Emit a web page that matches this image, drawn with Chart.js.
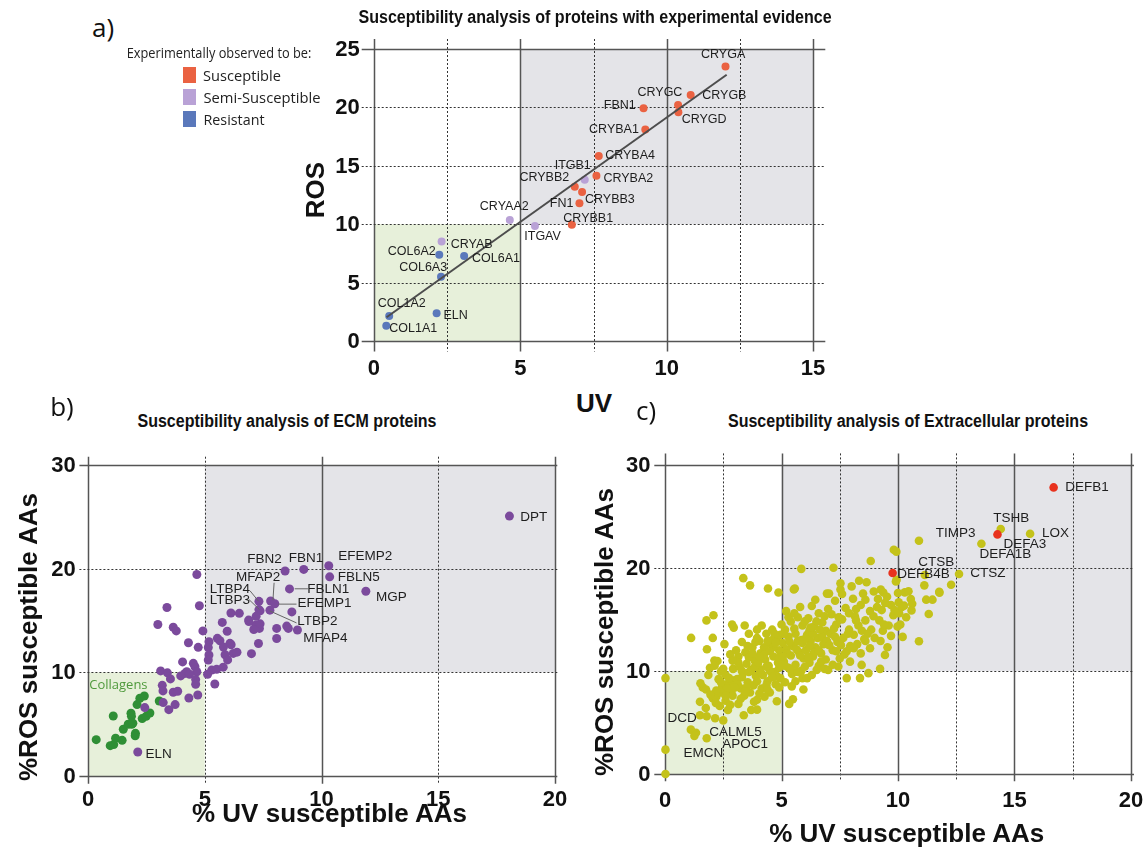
<!DOCTYPE html>
<html>
<head>
<meta charset="utf-8">
<title>Susceptibility analysis</title>
<script src="https://cdn.jsdelivr.net/npm/chart.js@4.4.1/dist/chart.umd.min.js"></script>
<style>
  body { margin:0; width:1147px; height:857px; position:relative; background:#fff; overflow:hidden;
         font-family:Arial, "Liberation Sans", sans-serif; color:#111; }
  canvas { position:absolute; }
  .txt { position:absolute; white-space:nowrap; line-height:1; }
  .title { font-weight:bold; font-size:18px; }
  .axis { font-weight:bold; font-size:26px; }
  .tick { font-weight:bold; font-size:22px; }
  .letter { font-family:"Open Sans", sans-serif; font-size:26px; }
  .legend { font-family:"Open Sans", sans-serif; font-size:15px; color:#222; }
  .swatch { position:absolute; width:13px; height:16px; }
</style>
</head>
<body>
<canvas id="chartA" width="520" height="360" style="left:320px;top:20px"></canvas>
<canvas id="chartB" width="540" height="370" style="left:30px;top:440px"></canvas>
<canvas id="chartC" width="537" height="370" style="left:610px;top:440px"></canvas>

<script>
// ---------- panel a: proteins with experimental evidence ----------
const susceptibleNames = ["CRYGA","CRYGB","CRYGC","CRYGD","FBN1","CRYBA1","CRYBA4","CRYBA2","CRYBB2","CRYBB3","FN1","CRYBB1"];
const susceptibleUV  = [12.01, 10.82, 10.39, 10.40, 9.21, 9.27, 7.68, 7.60, 6.86, 7.11, 7.02, 6.76];
const susceptibleROS = [23.50, 21.06, 20.20, 19.58, 19.92, 18.10, 15.84, 14.15, 13.20, 12.76, 11.79, 9.96];

const semiNames = ["ITGB1","CRYAA2","ITGAV","CRYAB"];
const semiUV  = [7.20, 4.64, 5.50, 2.31];
const semiROS = [13.80, 10.36, 9.85, 8.53];

const resistantNames = ["COL6A2","COL6A1","COL6A3","COL1A2","ELN","COL1A1"];
const resistantUV  = [2.23, 3.08, 2.29, 0.52, 2.14, 0.42];
const resistantROS = [7.39, 7.28, 5.51, 2.14, 2.37, 1.31];

const fitLineUV  = [0.43, 12.05];
const fitLineROS = [2.03, 22.80];

const ticksA_UV  = [0, 5, 10, 15];
const ticksA_ROS = [0, 5, 10, 15, 20, 25];

const labelsA   = ["CRYGA","CRYGC","CRYGB","FBN1","CRYGD","CRYBA1","CRYBA4","ITGB1","CRYBB2","CRYBA2","CRYBB3","FN1","CRYBB1","CRYAA2","ITGAV","CRYAB","COL6A2","COL6A1","COL6A3","COL1A2","ELN","COL1A1"];
const labelUVA  = [11.93, 9.77, 11.97, 8.40, 11.28, 8.20, 8.75, 6.79, 5.82, 8.69, 8.06, 6.41, 7.32, 4.45, 5.76, 3.34, 1.29, 4.17, 1.68, 0.95, 2.79, 1.34];
const labelROSA = [24.49, 21.26, 21.00, 20.12, 18.92, 18.13, 15.84, 15.04, 14.02, 13.93, 12.07, 11.79, 10.51, 11.50, 8.93, 8.24, 7.62, 7.05, 6.31, 3.17, 2.14, 1.05];

// ---------- panel b: ECM proteins ----------
const ecmPts = [
  [18.05,25.07],[10.31,20.28],[9.24,19.93],[8.44,19.77],[10.35,19.21],[8.63,18.05],[11.90,17.82],
  [7.32,16.85],[7.82,16.88],[8.00,16.62],[7.32,16.05],[7.37,15.93],[7.79,16.00],[8.73,15.83],
  [6.12,15.72],[6.48,15.69],[6.88,15.04],[7.20,15.40],[7.19,14.56],[7.34,14.24],[8.08,14.24],
  [8.51,14.46],[8.58,14.24],[8.97,14.08],[8.08,13.26],[7.30,12.78],[7.00,11.80],[5.75,14.82],
  [5.96,13.96],[5.54,13.28],[5.65,13.05],[6.08,12.80],[6.13,12.66],[5.80,12.45],[6.22,11.83],
  [6.38,11.95],[5.87,11.70],[5.98,11.20],[5.18,12.95],[5.15,12.40],[5.30,10.22],[5.51,10.29],
  [5.79,10.50],[4.30,12.85],[4.72,12.41],[4.58,10.54],[4.51,10.87],[5.18,11.67],[5.15,11.19],
  [4.15,9.90],[4.23,10.06],[4.66,10.06],[5.43,8.88],[5.12,9.82],[7.10,14.13],[6.89,14.90],[7.37,14.68],
  [4.66,19.44],[4.77,16.42],[4.92,14.00],[3.38,16.25],[2.99,14.61],[3.65,14.35],[3.78,14.00],
  [4.05,11.01],[3.11,10.14],[3.40,9.95],[3.53,9.37],[3.97,9.66],[4.35,9.82],[4.61,9.30],
  [4.61,8.85],[3.18,8.75],[3.21,8.21],[3.65,8.08],[3.84,8.18],[3.73,6.89],[4.32,7.53],
  [4.70,7.82],[3.22,7.08],[3.46,6.40],[2.43,6.60],[2.13,2.32]
];
const collagenPts = [
  [0.35,3.51],[0.95,2.93],[1.10,3.03],[1.18,3.64],[1.46,3.44],[1.08,5.79],[1.51,4.51],
  [1.72,4.99],[1.84,6.05],[1.86,5.76],[2.03,4.12],[2.02,3.89],[1.87,4.99],[2.10,6.89],
  [2.22,7.50],[2.41,7.72],[2.32,5.54],[2.49,5.76],[2.65,6.08],[3.05,7.24],[1.92,5.09]
];
const ticksBC_UV  = [0, 5, 10, 15, 20];
const ticksBC_ROS = [0, 10, 20, 30];
const labelsB   = ["DPT","EFEMP2","FBN1","FBN2","FBLN5","MFAP2","FBLN1","LTBP4","MGP","LTBP3","EFEMP1","LTBP2","MFAP4","ELN"];
const labelUVB  = [19.09, 11.87, 9.34, 7.56, 11.60, 7.29, 10.29, 6.08, 12.99, 6.08, 10.13, 9.82, 10.17, 3.02];
const labelROSB = [25.00, 21.24, 21.02, 20.89, 19.15, 19.21, 18.06, 17.99, 17.22, 16.96, 16.64, 14.90, 13.29, 2.09];
const leadersB = [
  [[8.85,18.06],[9.42,18.06]],
  [[6.94,17.86],[7.30,16.87]],
  [[6.89,17.03],[7.34,16.06]],
  [[7.97,18.64],[7.92,16.96]],
  [[8.15,16.58],[8.93,16.58]],
  [[7.78,15.93],[8.93,14.77]]
];

// ---------- panel c: extracellular proteins ----------
const extracellularPts = [
  [0.02,9.3],[0.02,2.36],[0.02,0.0],
  [1.11,4.3],[1.33,4.0],[1.26,3.7],[1.79,3.47],[2.15,5.4],[1.5,5.7],[1.79,5.6],[1.75,6.4],[1.5,7.0],
  [2.05,7.35],[1.62,8.4],[1.76,8.2],[1.52,8.8],[1.86,9.6],[1.93,10.3],[2.12,11.0],[1.8,12.1],
  [2.05,13.2],[1.12,13.2],[1.78,14.9],[2.08,15.4],
  [2.25,10.96],[2.13,10.5],[2.4,9.95],[2.6,9.6],[2.3,9.2],[2.72,8.8],[2.45,8.4],[2.85,8.0],[2.2,7.5],
  [2.6,7.1],[2.35,6.6],[2.7,6.2],[2.5,5.2],[2.95,14.2],[2.88,14.5],[2.55,12.6],[2.8,11.6],[2.92,10.2],
  [2.98,9.1],[2.66,8.3],[2.4,7.9],[2.9,7.6],[2.18,6.9],
  [3.95,14.0],[3.6,13.6],[3.3,12.8],[3.75,12.3],[3.45,11.8],[3.15,11.4],[3.85,11.0],[3.5,10.7],
  [3.2,10.4],[3.7,10.1],[3.35,9.8],[3.9,9.5],[3.1,9.2],[3.55,8.9],[3.8,8.6],[3.25,8.3],[3.65,7.9],
  [3.4,7.6],[3.95,7.2],[3.15,6.8],[3.7,6.2],[3.38,5.7],[3.36,19.0],[3.65,18.3],[3.42,14.4],[3.05,12.0],
  [3.88,12.8],[3.6,11.3],[3.3,10.0],[3.95,9.0],[3.5,8.4],[3.82,7.0],[3.12,8.7],
  [4.42,18.0],[4.87,17.6],[4.15,14.4],[4.6,14.0],[4.35,13.6],[4.8,13.2],[4.05,12.9],[4.55,12.6],
  [4.25,12.3],[4.9,12.0],[4.1,11.7],[4.65,11.4],[4.3,11.1],[4.85,10.8],[4.45,10.5],[4.05,10.2],
  [4.7,9.9],[4.2,9.6],[4.95,9.3],[4.4,9.0],[4.75,8.7],[4.15,8.3],[4.5,7.9],[4.27,7.5],[4.8,7.05],
  [3.95,6.24],[4.6,13.0],[4.2,11.3],[4.5,10.0],[4.9,11.3],[4.35,8.6],[4.65,12.3],[4.1,9.9],[4.8,9.5],
  [5.85,19.9],[5.57,18.0],[5.53,17.9],[5.2,15.8],[5.7,15.2],[5.4,14.8],[5.9,14.4],[5.15,14.0],
  [5.6,13.6],[5.3,13.3],[5.85,13.0],[5.05,12.7],[5.5,12.4],[5.2,12.1],[5.75,11.8],[5.4,11.5],
  [5.95,11.2],[5.1,10.9],[5.6,10.6],[5.3,10.3],[5.85,10.0],[5.45,9.7],[5.9,9.3],[5.44,8.5],
  [5.94,8.2],[5.49,7.25],[5.33,6.8],[5.25,11.7],[5.7,12.9],[5.55,14.1],[5.15,10.5],[5.8,11.5],
  [6.95,17.5],[6.3,16.3],[6.6,15.6],[6.15,15.1],[6.75,14.7],[6.4,14.3],[6.9,13.9],[6.1,13.5],
  [6.55,13.2],[6.25,12.9],[6.8,12.6],[6.45,12.3],[6.05,12.0],[6.7,11.7],[6.35,11.4],[6.9,11.1],
  [6.2,10.8],[6.6,10.5],[6.51,10.1],[6.1,9.3],[6.3,9.6],[6.85,10.2],[6.5,14.8],[6.2,13.9],
  [7.23,20.0],[7.53,18.5],[7.53,17.9],[7.04,17.5],[7.6,17.46],[7.3,16.8],[7.75,16.1],[7.15,15.5],
  [7.6,15.0],[7.35,14.5],[7.9,14.0],[7.1,13.6],[7.65,13.2],[7.4,12.8],[7.95,12.4],[7.2,12.0],
  [7.7,11.6],[7.44,10.42],[7.94,10.9],[7.0,10.1],[7.8,9.3],[7.5,11.2],[7.25,14.1],
  [8.83,20.66],[8.33,18.75],[8.65,18.6],[8.01,18.2],[8.5,17.5],[8.07,17.0],[8.96,17.7],[8.4,16.4],
  [8.8,15.8],[8.15,15.3],[8.6,14.9],[8.3,14.4],[8.85,14.0],[8.1,13.5],[8.55,13.1],[8.25,12.6],
  [8.8,12.2],[8.4,11.7],[8.44,10.58],[8.73,9.78],[8.37,9.3],[8.6,16.9],
  [9.82,21.76],[9.93,21.57],[9.94,18.85],[9.91,18.67],[9.26,17.9],[9.37,17.6],[9.53,17.2],[9.14,16.97],
  [9.7,16.4],[9.3,15.9],[9.8,15.4],[9.2,14.9],[9.6,14.4],[9.98,14.3],[9.35,13.9],[9.7,13.4],
  [9.25,12.9],[9.55,12.3],[9.44,11.55],[9.23,10.2],
  [10.9,22.63],[10.0,17.56],[10.03,16.65],[10.29,17.62],[10.45,17.72],[10.55,16.97],[10.61,16.52],
  [10.17,16.2],[10.26,16.33],[10.58,15.87],[10.2,13.3],[10.9,12.87],[10.35,15.2],[10.1,14.5],
  [11.15,19.3],[11.13,18.3],[11.21,16.91],[11.48,16.91],[11.32,15.52],[11.78,17.59],[12.28,18.36],
  [11.77,17.67],[12.62,19.4],[13.58,22.34],[14.41,23.76],[15.67,23.3],
  // dense core of the cloud
  [3.3,9.4],[3.6,9.9],[3.85,10.4],[4.0,10.8],[4.25,11.6],[4.5,11.9],[4.75,12.7],[4.95,13.5],
  [5.1,13.6],[5.35,12.8],[5.65,12.1],[5.9,12.7],[6.0,13.1],[6.2,12.4],[6.4,11.8],[6.6,12.0],
  [6.75,13.3],[6.95,12.9],[6.35,13.6],[6.65,14.0],[7.05,12.5],[7.3,13.3],[7.55,12.5],[7.85,13.6],
  [7.45,15.2],[7.9,15.6],[8.2,14.9],[8.45,13.9],[8.7,13.6],[8.95,15.3],[9.1,16.2],[9.45,16.6],
  [8.2,16.0],[5.05,11.4],[5.4,10.1],[5.7,9.9],[4.9,10.3],[4.6,9.4],[4.35,10.4],[4.05,11.4],
  [3.75,11.7],[3.55,12.4],[3.95,13.2],[4.4,12.9],[4.7,13.6],[5.0,14.5],[5.3,15.2],[5.55,15.6],
  [6.0,14.8],[6.25,14.2],[6.85,15.3],[7.0,16.0],[6.45,16.9],[5.8,16.2],[3.45,8.0],[3.0,8.4],
  [2.75,9.3],[2.5,10.2],[3.15,10.8],[2.9,11.0],[2.6,7.6],[2.2,8.1],[2.4,8.9],[1.95,7.7],
  [2.8,6.7],[3.25,7.3],[4.05,7.8],[4.4,8.2],[4.9,8.4],[5.15,8.9],[5.6,9.0],[6.0,10.4],
  [6.15,11.4],[6.7,10.9],[7.2,10.6],[7.35,11.9],[7.8,11.9],[8.1,12.2],[8.6,12.9],[9.0,13.2],
  [9.4,14.5],[9.85,15.9],[10.05,15.6]
];
const highlightPts = [[16.68,27.8],[14.27,23.24],[9.77,19.5]];
const labelsC   = ["DEFB1","TSHB","TIMP3","LOX","DEFA3","DEFA1B","CTSB","DEFB4B","CTSZ","DCD","CALML5","APOC1","EMCN"];
const labelUVC  = [18.11, 14.86, 12.47, 16.76, 15.45, 14.61, 11.64, 11.09, 13.86, 0.73, 3.03, 3.44, 1.65];
const labelROSC = [27.80, 24.83, 23.38, 23.31, 22.24, 21.27, 20.56, 19.33, 19.43, 5.43, 4.07, 2.85, 1.97];

// ---------- helpers ----------
const FONT = "Arial, Helvetica, sans-serif";
const GREY_BOX = "#e4e4e8";
const GREEN_BOX = "#e7f0da";

function pts(uv, ros) { return uv.map((x, i) => ({ x, y: ros[i] })); }
function pairs(list) { return list.map(([x, y]) => ({ x, y })); }

// shaded quadrants, Prism-style grid and text labels
const decor = {
  id: "decor",
  beforeDatasetsDraw(chart, args, o) {
    const { ctx, chartArea: a, scales: { x, y } } = chart;
    ctx.save();
    o.regions.forEach(r => {
      const l = x.getPixelForValue(r.x0), rt = x.getPixelForValue(r.x1);
      const t = y.getPixelForValue(r.y1), b = y.getPixelForValue(r.y0);
      ctx.fillStyle = r.color;
      ctx.fillRect(l, t, rt - l, b - t);
    });
    const stroke = (x0, y0, x1, y1, dotted) => {
      ctx.beginPath();
      ctx.setLineDash(dotted ? [2, 2] : []);
      ctx.strokeStyle = dotted ? "#333" : "#555";
      ctx.lineWidth = dotted ? 1 : 1.5;
      ctx.moveTo(x0, y0);
      ctx.lineTo(x1, y1);
      ctx.stroke();
    };
    o.xLines.forEach(([v, dotted]) => {
      const p = Math.round(x.getPixelForValue(v)) + 0.5;
      stroke(p, a.top, p, a.bottom, dotted);
    });
    o.yLines.forEach(([v, dotted]) => {
      const p = Math.round(y.getPixelForValue(v)) + 0.5;
      stroke(a.left, p, a.right, p, dotted);
    });
    ctx.restore();
  },
  afterDatasetsDraw(chart, args, o) {
    const { ctx, scales: { x, y } } = chart;
    ctx.save();
    ctx.setLineDash([]);
    ctx.strokeStyle = "#666";
    ctx.lineWidth = 1;
    (o.leaders || []).forEach(seg => {
      ctx.beginPath();
      seg.forEach(([u, r], i) => {
        const px = x.getPixelForValue(u), py = y.getPixelForValue(r);
        if (i === 0) ctx.moveTo(px, py); else ctx.lineTo(px, py);
      });
      ctx.stroke();
    });
    ctx.fillStyle = "#1e1e1e";
    ctx.font = o.labelSize + "px " + FONT;
    ctx.textAlign = "center";
    ctx.textBaseline = "middle";
    o.labels.forEach((t, i) => {
      ctx.fillText(t, x.getPixelForValue(o.labelX[i]), y.getPixelForValue(o.labelY[i]));
    });
    (o.extra || []).forEach(e => {
      ctx.fillStyle = e.color;
      ctx.font = e.size + "px " + e.family;
      ctx.fillText(e.text, x.getPixelForValue(e.x), y.getPixelForValue(e.y));
    });
    ctx.restore();
  }
};

function axis(c, horizontal) {
  return {
    type: "linear", min: c.min, max: c.max,
    afterBuildTicks: s => { s.ticks = c.ticks.map(v => ({ value: v })); },
    afterFit: s => { if (horizontal) s.height = c.size; else s.width = c.size; },
    grid: { display: false, drawTicks: false },
    border: { display: false },
    ticks: { display: false }
  };
}

function scatterChart(id, datasets, cfg) {
  const chart = new Chart(document.getElementById(id), {
    type: "scatter",
    data: { datasets },
    options: {
      responsive: false,
      animation: false,
      layout: { padding: cfg.padding },
      plugins: { legend: { display: false }, tooltip: { enabled: false }, decor: cfg.decor },
      scales: { x: axis(cfg.x, true), y: axis(cfg.y, false) }
    },
    plugins: [decor]
  });
  // bold tick numbers placed from the chart's own scales
  const cv = chart.canvas, ox = cv.offsetLeft, oy = cv.offsetTop;
  const a = chart.chartArea;
  cfg.x.ticks.forEach(v => {
    place(String(v), "tick", ox + chart.scales.x.getPixelForValue(v), oy + a.bottom + cfg.x.labelOffset);
  });
  cfg.y.ticks.forEach(v => {
    const d = place(String(v), "tick", ox + a.left - cfg.y.labelOffset, oy + chart.scales.y.getPixelForValue(v));
    d.style.transform = "translate(-100%,-50%)";
  });
  return chart;
}

function dots(data, color, r) {
  return { data, backgroundColor: color, borderWidth: 0, pointRadius: r, pointHoverRadius: r };
}

function place(text, cls, cx, cy, opt = {}) {
  const d = document.createElement("div");
  d.className = "txt " + cls;
  d.textContent = text;
  document.body.appendChild(d);
  const k = opt.width ? opt.width / d.offsetWidth : 1;
  const rot = opt.rotate ? " rotate(-90deg)" : "";
  d.style.left = cx + "px";
  d.style.top = cy + "px";
  d.style.transform = "translate(-50%,-50%)" + rot + " scaleX(" + k + ")";
  return d;
}

// ---------- panel a ----------
scatterChart("chartA", [
  { type: "line", data: pts(fitLineUV, fitLineROS), borderColor: "#4d4d4d", borderWidth: 2, pointRadius: 0 },
  dots(pts(susceptibleUV, susceptibleROS), "#ea6242", 4),
  dots(pts(semiUV, semiROS), "#b9a2d6", 4),
  dots(pts(resistantUV, resistantROS), "#5a78bb", 4)
], {
  padding: { top: 19, right: 14.7, left: 0, bottom: 0 },
  x: { min: -0.42, max: 15.42, ticks: ticksA_UV, size: 28.5, labelOffset: 16.5 },
  y: { min: -0.9, max: 25.86, ticks: ticksA_ROS, size: 41.7, labelOffset: 2 },
  decor: {
    regions: [
      { x0: 5, x1: 15, y0: 10, y1: 25, color: GREY_BOX },
      { x0: 0, x1: 5, y0: 0, y1: 10, color: GREEN_BOX }
    ],
    xLines: [[0, false], [2.5, true], [5, false], [7.5, true], [10, false], [12.5, true], [15, false]],
    yLines: [[0, false], [5, true], [10, true], [15, true], [20, true], [25, false]],
    labels: labelsA, labelX: labelUVA, labelY: labelROSA, labelSize: 12.5
  }
});

// ---------- panel b ----------
scatterChart("chartB", [
  dots(pairs(ecmPts), "#7b4a9c", 4.5),
  dots(pairs(collagenPts), "#2f8f35", 4.5)
], {
  padding: { top: 16.7, right: 12.7, left: 0, bottom: 0 },
  x: { min: -0.37, max: 20.1, ticks: ticksBC_UV, size: 26.3, labelOffset: 15 },
  y: { min: -0.74, max: 30.8, ticks: ticksBC_ROS, size: 49.4, labelOffset: 3.6 },
  decor: {
    regions: [
      { x0: 5, x1: 20, y0: 10, y1: 30, color: GREY_BOX },
      { x0: 0, x1: 5, y0: 0, y1: 10, color: GREEN_BOX }
    ],
    xLines: [[0, false], [5, true], [10, false], [15, true], [20, false]],
    yLines: [[0, false], [10, true], [20, true], [30, false]],
    labels: labelsB, labelX: labelUVB, labelY: labelROSB, labelSize: 13.5,
    leaders: leadersB,
    extra: [{ text: "Collagens", x: 1.3, y: 8.75, color: "#4f9a3c", size: 13, family: '"Open Sans", sans-serif' }]
  }
});

// ---------- panel c ----------
scatterChart("chartC", [
  dots(pairs(highlightPts), "#e8321e", 4.3),
  dots(pairs(extracellularPts), "#c4c21a", 4.3)
], {
  padding: { top: 13.4, right: 13, left: 0, bottom: 0 },
  x: { min: -0.46, max: 20.13, ticks: ticksBC_UV, size: 28.8, labelOffset: 18.5 },
  y: { min: -0.7, max: 31.1, ticks: ticksBC_ROS, size: 44.3, labelOffset: 3.7 },
  decor: {
    regions: [
      { x0: 5, x1: 20, y0: 10, y1: 30, color: GREY_BOX },
      { x0: 0, x1: 5, y0: 0, y1: 10, color: GREEN_BOX }
    ],
    xLines: [[0, false], [2.5, true], [5, false], [7.5, true], [10, false], [12.5, true], [15, false], [17.5, true], [20, false]],
    yLines: [[0, false], [10, true], [20, true], [30, false]],
    labels: labelsC, labelX: labelUVC, labelY: labelROSC, labelSize: 13.5
  }
});

// ---------- page text ----------
place("Susceptibility analysis of proteins with experimental evidence", "title", 594.5, 17, { width: 473 });
place("Susceptibility analysis of ECM proteins", "title", 287, 421, { width: 299 });
place("Susceptibility analysis of Extracellular proteins", "title", 907.6, 421, { width: 360 });

place("a)", "letter", 103, 27);
place("b)", "letter", 62, 406);
place("c)", "letter", 646, 410);

place("UV", "axis", 594, 403);
place("ROS", "axis", 315, 190, { rotate: true });
place("% UV susceptible AAs", "axis", 329.5, 813);
place("%ROS susceptible AAs", "axis", 27.5, 637, { rotate: true });
place("% UV susceptible AAs", "axis", 906.7, 833);
place("%ROS susceptible AAs", "axis", 603.7, 631.5, { rotate: true });

place("Experimentally observed to be:", "legend", 218.5, 52, { width: 185 });
const legendItems = [["Susceptible", "#ea6242", 75, 78], ["Semi-Susceptible", "#b9a2d6", 97, 117], ["Resistant", "#5a78bb", 119, 61]];
legendItems.forEach(([t, c, cy, w]) => {
  const s = document.createElement("div");
  s.className = "swatch";
  s.style.left = "183px";
  s.style.top = (cy - 8) + "px";
  s.style.background = c;
  document.body.appendChild(s);
  place(t, "legend", 203 + w / 2, cy, { width: w });
});
</script>
</body>
</html>
